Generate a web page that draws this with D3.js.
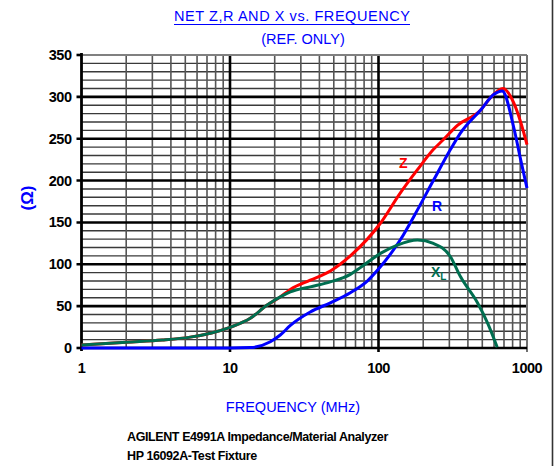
<!DOCTYPE html>
<html>
<head>
<meta charset="utf-8">
<script src="https://cdn.jsdelivr.net/npm/d3@7"></script>
<style>
body { margin: 0; background: #fff; }
svg { display: block; }
.cad { font-family: "Liberation Sans", Arial, sans-serif; }
.bold { font-family: "Liberation Sans", Arial, sans-serif; font-weight: bold; }
</style>
</head>
<body>
<div id="chart"></div>
<script>
var margin = { top: 55, right: 31, bottom: 118, left: 81.5 },
    width = 558 - margin.left - margin.right,
    height = 466 - margin.top - margin.bottom;

// frequency in MHz, values in ohms
var zFreq = [1, 2, 3.5, 5.4, 7.5, 10, 13.7, 17.7, 21.8, 25.5, 34.7, 47.4, 64.6, 103, 140, 183, 234, 274, 340, 486, 568, 690, 813, 906, 1000],
    zVals = [3.6, 7, 9.5, 13, 18, 24.7, 35.5, 51, 61, 70, 81, 92, 110, 149, 185, 213, 237, 249, 266, 284, 299, 310, 293, 270, 243];
var rFreq = [1, 5, 10, 13.7, 18.7, 21.8, 25.5, 34.7, 47.4, 64.6, 84, 103, 140, 183, 234, 305, 357, 486, 600, 680, 813, 906, 1000],
    rVals = [0, 0, 0, 0.5, 7.5, 15.5, 27, 43, 54, 66, 80, 97, 129, 165, 200, 237, 257, 284, 303, 307, 264, 225, 191];
var xFreq = [1, 2, 3.5, 5.4, 7.5, 10, 13.7, 17.7, 21.8, 25.5, 34.7, 47.4, 64.6, 75.5, 103, 134, 183, 234, 305, 357, 464, 542, 630],
    xVals = [3.6, 7, 9.5, 13, 18, 24.7, 35.5, 51, 61, 67, 73, 79, 88, 96, 113, 123, 129, 125, 109, 85, 54, 30, 1];

var yTicks = [0, 50, 100, 150, 200, 250, 300, 350],
    xTicks = [1, 10, 100, 1000];

var svg = d3.select("#chart").append("svg")
    .attr("width", 558)
    .attr("height", 466);

var g = svg.append("g")
    .attr("transform", "translate(" + margin.left + "," + margin.top + ")");

var x = d3.scaleLog().domain([1, 1000]).range([0, width]);
var y = d3.scaleLinear().domain([0, 350]).range([height, 0]);

// minor grid
var minorY = d3.range(10, 350, 10).filter(function (d) { return d % 50 != 0; });
g.selectAll(".hminor").data(minorY).enter().append("line")
    .attr("x1", 0).attr("x2", width)
    .attr("y1", function (d) { return y(d); }).attr("y2", function (d) { return y(d); })
    .attr("stroke", "#3a3a3a").attr("stroke-width", 1.4);

var minorX = [];
[1, 10, 100].forEach(function (dec) {
    for (var k = 2; k <= 9; k++) minorX.push(dec * k);
});
g.selectAll(".vminor").data(minorX).enter().append("line")
    .attr("y1", 0).attr("y2", height)
    .attr("x1", function (d) { return x(d); }).attr("x2", function (d) { return x(d); })
    .attr("stroke", "#555").attr("stroke-width", 1.6);

// major grid
g.selectAll(".hmajor").data(yTicks.slice(1, -1)).enter().append("line")
    .attr("x1", -5).attr("x2", width)
    .attr("y1", function (d) { return y(d); }).attr("y2", function (d) { return y(d); })
    .attr("stroke", "#000").attr("stroke-width", 2.6);

g.selectAll(".vmajor").data([10, 100]).enter().append("line")
    .attr("y1", 0).attr("y2", height + 4)
    .attr("x1", function (d) { return x(d); }).attr("x2", function (d) { return x(d); })
    .attr("stroke", "#000").attr("stroke-width", 2.6);

// frame
g.append("line").attr("x1", 0).attr("x2", width).attr("y1", 0).attr("y2", 0)
    .attr("stroke", "#808080").attr("stroke-width", 2.2);
g.append("line").attr("x1", width).attr("x2", width).attr("y1", 0).attr("y2", height + 4)
    .attr("stroke", "#707070").attr("stroke-width", 2);
g.append("line").attr("x1", 0).attr("x2", width).attr("y1", height).attr("y2", height)
    .attr("stroke", "#000").attr("stroke-width", 2.4);
g.append("line").attr("x1", 0).attr("x2", 0).attr("y1", -2).attr("y2", height + 3)
    .attr("stroke", "#000").attr("stroke-width", 2.8);
g.selectAll(".ytk").data([0, 350]).enter().append("line")
    .attr("x1", -5).attr("x2", 0)
    .attr("y1", function (d) { return y(d); }).attr("y2", function (d) { return y(d); })
    .attr("stroke", "#000").attr("stroke-width", 2.6);

// tick labels
g.selectAll(".ylab").data(yTicks).enter().append("text")
    .attr("class", "bold")
    .attr("x", -10)
    .attr("y", function (d) { return y(d) + 5; })
    .attr("text-anchor", "end")
    .attr("font-size", 14.5)
    .attr("letter-spacing", -0.5)
    .text(function (d) { return d; });

g.selectAll(".xlab").data(xTicks).enter().append("text")
    .attr("class", "bold")
    .attr("x", function (d) { return x(d); })
    .attr("y", height + 25)
    .attr("text-anchor", "middle")
    .attr("font-size", 14.5)
    .attr("letter-spacing", -0.5)
    .text(function (d) { return d; });

// curves (red under blue, green on top)
var line = d3.line()
    .x(function (d) { return x(d[0]); })
    .y(function (d) { return y(d[1]); })
    .curve(d3.curveMonotoneX);

var series = [
    { f: zFreq, v: zVals, color: "#ff0000" },
    { f: rFreq, v: rVals, color: "#0000ff" },
    { f: xFreq, v: xVals, color: "#006e50" }
];
g.selectAll(".curve").data(series).enter().append("path")
    .attr("d", function (s) { return line(d3.zip(s.f, s.v)); })
    .attr("fill", "none")
    .attr("stroke", function (s) { return s.color; })
    .attr("stroke-width", 3);

// series labels
svg.append("text").attr("class", "bold").attr("x", 399).attr("y", 168)
    .attr("font-size", 14).attr("fill", "#ff0000").text("Z");
svg.append("text").attr("class", "bold").attr("x", 432).attr("y", 211)
    .attr("font-size", 14).attr("fill", "#0000ff").text("R");
var xl = svg.append("text").attr("class", "bold").attr("x", 431).attr("y", 277)
    .attr("font-size", 14).attr("fill", "#006e50");
xl.append("tspan").text("X");
xl.append("tspan").attr("font-size", 10).attr("dy", 3).text("L");

// titles
svg.append("text").attr("class", "cad")
    .attr("x", 292).attr("y", 21)
    .attr("text-anchor", "middle")
    .attr("font-size", 14.5)
    .attr("fill", "#0000ff")
    .attr("textLength", 236)
    .text("NET Z,R AND X vs. FREQUENCY");
svg.append("line").attr("x1", 174).attr("x2", 410).attr("y1", 24.5).attr("y2", 24.5)
    .attr("stroke", "#0000ff").attr("stroke-width", 1);
svg.append("text").attr("class", "cad")
    .attr("x", 303).attr("y", 44)
    .attr("text-anchor", "middle")
    .attr("font-size", 14.5)
    .attr("fill", "#0000ff")
    .text("(REF. ONLY)");

svg.append("text").attr("class", "cad")
    .attr("x", 293).attr("y", 412)
    .attr("text-anchor", "middle")
    .attr("font-size", 14.5)
    .attr("fill", "#0000ff")
    .text("FREQUENCY (MHz)");

svg.append("text").attr("class", "bold")
    .attr("transform", "translate(33,198) rotate(-90)")
    .attr("text-anchor", "middle")
    .attr("font-size", 17)
    .attr("fill", "#0000ff")
    .text("(Ω)");

svg.append("text").attr("class", "bold")
    .attr("x", 127).attr("y", 441)
    .attr("font-size", 12.5)
    .attr("letter-spacing", -0.4)
    .text("AGILENT E4991A Impedance/Material Analyzer");
svg.append("text").attr("class", "bold")
    .attr("x", 127).attr("y", 460)
    .attr("font-size", 12.5)
    .attr("letter-spacing", -0.4)
    .text("HP 16092A-Test Fixture");

// outer right edge line
svg.append("line").attr("x1", 552.5).attr("x2", 552.5).attr("y1", 0).attr("y2", 466)
    .attr("stroke", "#333").attr("stroke-width", 1.6);
</script>
</body>
</html>
